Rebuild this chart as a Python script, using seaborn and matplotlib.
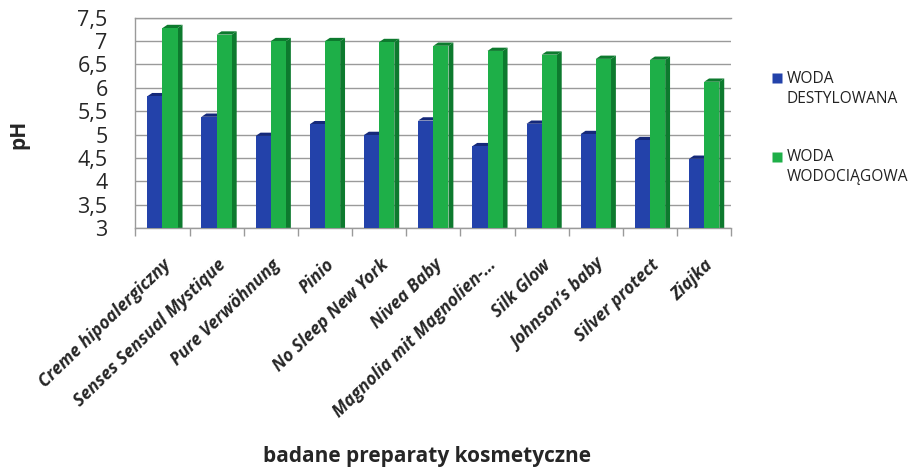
import numpy as np
import pandas as pd
import matplotlib.pyplot as plt
import seaborn as sns
from matplotlib.patches import Polygon
from matplotlib.lines import Line2D
from matplotlib.legend_handler import HandlerLine2D

# data
products = ['Creme hipoalergiczny', 'Senses Sensual Mystique', 'Pure Verwöhnung', 'Pinio',
            'No Sleep New York', 'Nivea Baby', 'Magnolia mit Magnolien-…', 'Silk Glow',
            'Johnson’s baby', 'Silver protect', 'Ziajka']
woda_destylowana = [5.82, 5.38, 4.97, 5.22, 4.99, 5.30, 4.75, 5.23, 5.01, 4.88, 4.48]
woda_wodociagowa = [7.28, 7.14, 7.00, 7.00, 6.98, 6.90, 6.79, 6.71, 6.62, 6.60, 6.13]
series = ['WODA\nDESTYLOWANA', 'WODA\nWODOCIĄGOWA']
y_ticks = [3, 3.5, 4, 4.5, 5, 5.5, 6, 6.5, 7, 7.5]

colors = ['#2342AA', '#1EAF48']
side_colors = ['#15297A', '#0D7A2E']

df = pd.DataFrame({
    'produkt': products * 2,
    'seria': [series[0]] * len(products) + [series[1]] * len(products),
    'pH': woda_destylowana + woda_wodociagowa,
})

sns.set_theme(style='white')
plt.rcParams['font.family'] = ['Open Sans', 'DejaVu Sans']

fig = plt.figure(figsize=(9.21, 4.68), dpi=100)
ax = fig.add_axes([0.147, 0.513, 0.647, 0.449])

sns.barplot(data=df, x='produkt', y='pH', hue='seria', palette=colors,
            width=0.56, saturation=1, legend=False, ax=ax, zorder=3)

# fake 3d: side and top faces behind the bars
dx, dy = 0.09, 0.07
for bars, sc in zip(ax.containers, side_colors):
    for p in bars.patches:
        x0, w, h = p.get_x(), p.get_width(), p.get_height()
        x1 = x0 + w
        p.set_edgecolor('none')
        ax.add_patch(Polygon([(x1, 0), (x1 + dx, dy), (x1 + dx, h + dy), (x1, h)],
                             closed=True, facecolor=sc, edgecolor='none', zorder=2))
        ax.add_patch(Polygon([(x0, h), (x0 + dx, h + dy), (x1 + dx, h + dy), (x1, h)],
                             closed=True, facecolor=sc, edgecolor='none', zorder=2))

ax.set_ylim(3, 7.5)
ax.set_xlim(-0.5, len(products) - 0.5)
ax.set_yticks(y_ticks)
ax.set_yticklabels([('%g' % v).replace('.', ',') for v in y_ticks], fontsize=15.5)
ax.yaxis.grid(True, color='#9A9A9A', linewidth=1)
ax.set_axisbelow(True)
for s in ax.spines.values():
    s.set_color('#9A9A9A')
    s.set_linewidth(1)
ax.spines['right'].set_visible(False)

ax.set_xticks(np.arange(len(products)))
ax.set_xticklabels(products, rotation=44, ha='right', rotation_mode='anchor',
                   fontsize=12.5, fontweight='bold', fontstyle='italic')
ax.set_xticks(np.arange(len(products) + 1) - 0.5, minor=True)
ax.tick_params(axis='x', which='major', length=0, pad=20)
ax.tick_params(axis='x', which='minor', length=6, color='#9A9A9A', bottom=True)
ax.tick_params(axis='y', length=0, pad=20)

ax.set_xlabel('badane preparaty kosmetyczne', fontsize=15, fontweight='bold')
ax.xaxis.set_label_coords(0.49, -1.04)
ax.set_ylabel('pH', fontsize=15, fontweight='bold')
ax.yaxis.set_label_coords(-0.178, 0.443)


class TopLineHandler(HandlerLine2D):
    # put the square on the first line of a two-line label
    def create_artists(self, legend, orig_handle, xdescent, ydescent, width, height,
                       fontsize, trans):
        artists = super().create_artists(legend, orig_handle, xdescent, ydescent,
                                         width, height, fontsize, trans)
        for a in artists:
            a.set_ydata(np.asarray(a.get_ydata()) + 0.72 * fontsize)
        return artists


handles = [Line2D([], [], marker='s', linestyle='none', markersize=7,
                  markerfacecolor=c, markeredgecolor='none') for c in colors]
leg = fig.legend(handles, series, loc='upper left', bbox_to_anchor=(0.836, 0.855),
                 frameon=False, fontsize=11.2, handlelength=0.55, handletextpad=0.3,
                 labelspacing=2.7, borderaxespad=0, borderpad=0.2,
                 handler_map={Line2D: TopLineHandler()})
for t in leg.get_texts():
    t.set_linespacing(1.35)
    t.set_color('#222222')

plt.savefig('out.png', dpi=100)
